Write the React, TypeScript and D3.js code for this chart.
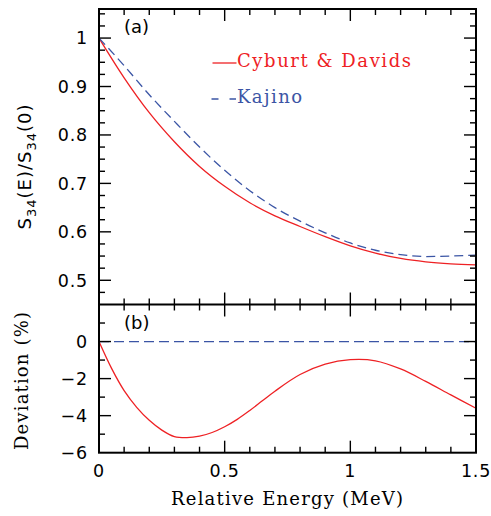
import React from "react";
import * as d3 from "d3";

// ---- Data ----
const energy = [0, 0.1, 0.2, 0.3, 0.4, 0.5, 0.6, 0.7, 0.8, 0.9, 1.0, 1.1, 1.2, 1.3, 1.4, 1.5];
const cyburtS = [1.0, 0.918, 0.846, 0.786, 0.735, 0.694, 0.66, 0.633, 0.611, 0.59, 0.571, 0.556, 0.545, 0.538, 0.534, 0.532];
const kajinoS = [1.0, 0.943, 0.883, 0.828, 0.775, 0.727, 0.685, 0.65, 0.622, 0.598, 0.577, 0.562, 0.553, 0.549, 0.55, 0.552];

const devEnergy = [0, 0.05, 0.1, 0.15, 0.2, 0.25, 0.3, 0.35, 0.4, 0.45, 0.5, 0.55, 0.6, 0.65, 0.7, 0.8, 0.9, 1.0, 1.1, 1.2, 1.3, 1.4, 1.5];
const cyburtDev = [0, -1.45, -2.65, -3.55, -4.25, -4.78, -5.13, -5.19, -5.11, -4.91, -4.6, -4.2, -3.72, -3.2, -2.68, -1.78, -1.22, -0.98, -1.04, -1.48, -2.15, -2.88, -3.6];
const kajinoDev = devEnergy.map(() => 0);

const xTickLabels = ["0", "0.5", "1", "1.5"];
const xMajor = [0, 0.5, 1, 1.5];
const topYMajor = [0.5, 0.6, 0.7, 0.8, 0.9, 1];
const topYLabels = ["0.5", "0.6", "0.7", "0.8", "0.9", "1"];
const botYMajor = [-6, -4, -2, 0];
const botYLabels = ["\u22126", "\u22124", "\u22122", "0"];

const RED = "#ee2124";
const BLUE = "#3b55a5";

const W = 491, H = 516;
const L = 99, R = 476, T = 9, M = 304.5, B = 452.7;

const x = d3.scaleLinear().domain([0, 1.5]).range([L, R]);
const yTop = d3.scaleLinear().domain([0.45, 1.06]).range([M, T]);
const yBot = d3.scaleLinear().domain([-6, 2]).range([B, M]);

const MAJ = 12, MIN = 6;
const sansFont = "'DejaVu Sans', sans-serif";
const serifFont = "'DejaVu Serif', serif";

function range(a: number, b: number, s: number) {
  const out: number[] = [];
  const n = Math.round((b - a) / s);
  for (let i = 0; i <= n; i++) out.push(+(a + i * s).toFixed(4));
  return out;
}

export default function App() {
  const lineTop = (vals: number[]) =>
    d3.line<number>().x((_, i) => x(energy[i])).y((v) => yTop(v)).curve(d3.curveMonotoneX)(vals) || "";
  const lineBot = (vals: number[]) =>
    d3.line<number>().x((_, i) => x(devEnergy[i])).y((v) => yBot(v)).curve(d3.curveCatmullRom)(vals) || "";

  const xTicks = range(0, 1.5, 0.1);
  const isMajorX = (v: number) => xMajor.some((m) => Math.abs(m - v) < 1e-6);
  const topYTicks = range(0.475, 1.05, 0.025);
  const isMajorTopY = (v: number) => topYMajor.some((m) => Math.abs(m - v) < 1e-6);
  const botYTicks = range(-5, 1, 1);
  const isMajorBotY = (v: number) => Math.round(v) % 2 === 0;

  const ticks: JSX.Element[] = [];
  xTicks.forEach((v, i) => {
    if (v <= 0 || v >= 1.5) return;
    const len = isMajorX(v) ? MAJ : MIN;
    const px = x(v);
    ticks.push(<line key={"xt" + i} x1={px} x2={px} y1={T} y2={T + len} />);
    ticks.push(<line key={"xm1" + i} x1={px} x2={px} y1={M} y2={M - len} />);
    ticks.push(<line key={"xm2" + i} x1={px} x2={px} y1={M} y2={M + len} />);
    ticks.push(<line key={"xb" + i} x1={px} x2={px} y1={B} y2={B - len} />);
  });
  topYTicks.forEach((v, i) => {
    const len = isMajorTopY(v) ? MAJ : MIN;
    const py = yTop(v);
    ticks.push(<line key={"tyl" + i} x1={L} x2={L + len} y1={py} y2={py} />);
    ticks.push(<line key={"tyr" + i} x1={R} x2={R - len} y1={py} y2={py} />);
  });
  botYTicks.forEach((v, i) => {
    const len = isMajorBotY(v) ? MAJ : MIN;
    const py = yBot(v);
    ticks.push(<line key={"byl" + i} x1={L} x2={L + len} y1={py} y2={py} />);
    ticks.push(<line key={"byr" + i} x1={R} x2={R - len} y1={py} y2={py} />);
  });

  return (
    <svg width={W} height={H} style={{ position: "absolute", left: 0, top: 0, background: "#fff" }}>
      <path d={lineTop(cyburtS)} fill="none" stroke={RED} strokeWidth={1.3} />
      <path d={lineTop(kajinoS)} fill="none" stroke={BLUE} strokeWidth={1.3} strokeDasharray="9,5" />
      <path d={lineBot(kajinoDev)} fill="none" stroke={BLUE} strokeWidth={1.3} strokeDasharray="10,5" />
      <path d={lineBot(cyburtDev)} fill="none" stroke={RED} strokeWidth={1.3} />

      <g stroke="#000" fill="none">
        <rect x={L} y={T} width={R - L} height={B - T} strokeWidth={2} />
        <line x1={L} x2={R} y1={M} y2={M} strokeWidth={2} />
        <g strokeWidth={1.4}>{ticks}</g>
      </g>

      <g fontFamily={sansFont} fontSize={17.5} fill="#000" letterSpacing={0.8}>
        {xMajor.map((v, i) => (
          <text key={"xl" + i} x={x(v)} y={477} textAnchor="middle">{xTickLabels[i]}</text>
        ))}
        {topYMajor.map((v, i) => (
          <text key={"tyl" + i} x={88} y={yTop(v)} dy="0.36em" textAnchor="end">{topYLabels[i]}</text>
        ))}
        {botYMajor.map((v, i) => (
          <text key={"byl" + i} x={88} y={yBot(v)} dy="0.36em" textAnchor="end">{botYLabels[i]}</text>
        ))}
      </g>

      <g fontFamily={sansFont} fontSize={18} fill="#000">
        <text x={124} y={33}>(a)</text>
        <text x={124} y={329}>(b)</text>
      </g>

      <text x={(L + R) / 2 - 0.5} y={505} textAnchor="middle" fontFamily={serifFont} fontSize={18}
        textLength={232} lengthAdjust="spacing">Relative Energy (MeV)</text>
      <text transform={`translate(28,381) rotate(-90)`} textAnchor="middle" fontFamily={serifFont} fontSize={18}
        textLength={138} lengthAdjust="spacing">Deviation (%)</text>
      <text transform={`translate(31,166.5) rotate(-90)`} textAnchor="middle" fontFamily={sansFont} fontSize={18}
        letterSpacing={1}>
        <tspan>S</tspan>
        <tspan fontSize={13} dy={5}>34</tspan>
        <tspan dy={-5}>(E)/S</tspan>
        <tspan fontSize={13} dy={5}>34</tspan>
        <tspan dy={-5}>(0)</tspan>
      </text>

      <line x1={212.5} x2={236.5} y1={63} y2={63} stroke={RED} strokeWidth={1.3} />
      <text x={237} y={67} fontFamily={serifFont} fontSize={18} fill={RED} textLength={174} lengthAdjust="spacing">
        Cyburt &amp; Davids
      </text>
      <line x1={211.5} x2={236} y1={99} y2={99} stroke={BLUE} strokeWidth={1.3} strokeDasharray="7,11" />
      <text x={237} y={103} fontFamily={serifFont} fontSize={18} fill={BLUE} textLength={65} lengthAdjust="spacing">
        Kajino
      </text>
    </svg>
  );
}
